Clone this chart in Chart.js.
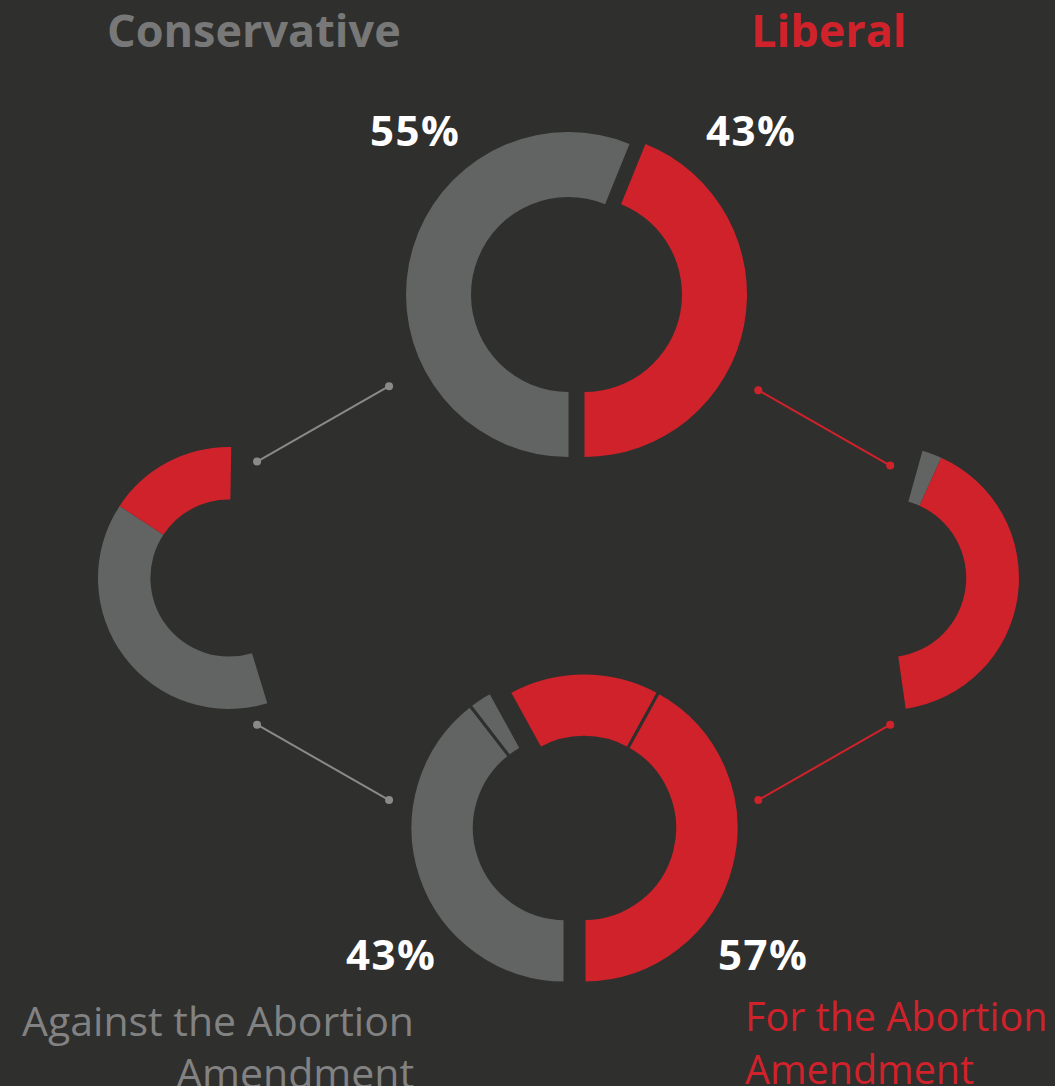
<!DOCTYPE html>
<html>
<head>
<meta charset="utf-8">
<title>Abortion Amendment by political leaning</title>
<script src="https://cdn.jsdelivr.net/npm/chart.js@4.4.1/dist/chart.umd.min.js"></script>
<style>
    html, body { margin: 0; padding: 0; background: #2f2f2e; }
    #page { position: relative; width: 1055px; height: 1086px; overflow: hidden; font-family: 'Open Sans', 'Noto Sans', sans-serif; }
    #page canvas { position: absolute; }
    .label { position: absolute; white-space: nowrap; line-height: 1; }
    .head { font-weight: 700; font-size: 45px; top: 7px; }
    .pct { font-weight: 700; font-size: 42px; color: #ffffff; letter-spacing: 1.5px; }
    .side { font-size: 41px; }
</style>
</head>
<body>
<div id="page">
    <div class="label head" id="lblCons" style="left:107px; color:#787878;"></div>
    <div class="label head" id="lblLib" style="left:751px; color:#d0222a;"></div>
    <div class="label pct" id="pctCons" style="left:370px; top:109px;"></div>
    <div class="label pct" id="pctLib" style="left:706px; top:109px;"></div>
    <div class="label pct" id="pctAgainst" style="left:346px; top:933px;"></div>
    <div class="label pct" id="pctFor" style="left:718px; top:933px;"></div>
    <div class="label side" id="lblAgainst" style="right:641px; top:994px; text-align:right; line-height:52px; color:#828282;"></div>
    <div class="label side" id="lblFor" style="left:745px; top:990px; line-height:53px; font-size:39.5px; color:#d0222a;"></div>
</div>
<script>
// voters by leaning (top ring)
const groupLabels = ['Conservative', 'Liberal'];
const groupShare = [55, 43];

// how each group voted: [against, for]
const conservativeSplit = [39, 16];
const liberalSplit = [2.4, 41];

// outcome (bottom ring)
const outcomeLabels = ['Against the Abortion', 'For the Abortion'];
const outcomeShare = [43, 57];
// conservative against, liberal against, conservative for, liberal for
const outcomeParts = [39.5, 2.5, 16, 42];

const GRAY = '#626463';
const RED = '#d0222a';
const BG = '#2f2f2e';
const NONE = 'rgba(0,0,0,0)';

const page = document.getElementById('page');

function sum(arr) {
    return arr.reduce((a, b) => a + b, 0);
}

// one doughnut chart on its own canvas, centred on (cx, cy)
function addDonut(cx, cy, radius, cutout, values, colors, rotation, borders) {
    const size = Math.ceil(radius * 2 + 10);
    const canvas = document.createElement('canvas');
    canvas.width = size;
    canvas.height = size;
    canvas.style.left = (cx - size / 2) + 'px';
    canvas.style.top = (cy - size / 2) + 'px';
    page.appendChild(canvas);
    return new Chart(canvas, {
        type: 'doughnut',
        data: {
            datasets: [{
                data: values,
                backgroundColor: colors,
                borderColor: BG,
                borderWidth: borders || 0,
            }]
        },
        options: {
            responsive: false,
            animation: false,
            events: [],
            radius: radius,
            cutout: cutout,
            rotation: rotation,
            layout: { padding: 0 },
            plugins: {
                legend: { display: false },
                tooltip: { enabled: false },
            },
        },
    });
}

// connector lines between the rings
const connectors = [
    { color: '#8a8a8a', points: [{ x: 255, y: 461 }, { x: 388, y: 385 }] },
    { color: RED, points: [{ x: 760, y: 389 }, { x: 893, y: 465 }] },
    { color: '#8a8a8a', points: [{ x: 255, y: 726 }, { x: 388, y: 802 }] },
    { color: RED, points: [{ x: 893, y: 726 }, { x: 760, y: 802 }] },
];

const lineCanvas = document.createElement('canvas');
lineCanvas.width = 1055;
lineCanvas.height = 1086;
lineCanvas.style.left = '0px';
lineCanvas.style.top = '0px';
page.appendChild(lineCanvas);
new Chart(lineCanvas, {
    type: 'scatter',
    data: {
        datasets: connectors.map(c => ({
            data: c.points,
            showLine: true,
            borderColor: c.color,
            backgroundColor: c.color,
            borderWidth: 2,
            pointRadius: 4,
            pointBorderWidth: 0,
        }))
    },
    options: {
        responsive: false,
        animation: false,
        events: [],
        layout: { padding: 0 },
        scales: {
            x: { type: 'linear', min: 0, max: 1055, display: false },
            y: { type: 'linear', min: 0, max: 1086, reverse: true, display: false },
        },
        plugins: {
            legend: { display: false },
            tooltip: { enabled: false },
        },
    },
});

// top ring: conservatives pulled left, liberals pulled right
addDonut(568, 294.5, 162.5, '60%', groupShare, [GRAY, NONE], 180);
addDonut(584, 294.5, 162.5, '60%', groupShare, [NONE, RED], 180);

// side arcs: how each group split
addDonut(229, 578, 131, '60%', [...conservativeSplit, 100 - sum(conservativeSplit)], [GRAY, RED, NONE], 163);
addDonut(887, 578, 132, '60%', [...liberalSplit, 100 - sum(liberalSplit)], [GRAY, RED, NONE], 15.6);

// bottom ring: against pulled left, for pulled right
addDonut(565, 827.5, 155, '58.5%', outcomeParts, [GRAY, GRAY, NONE, NONE], 180, [3, 3, 0, 0]);
addDonut(584, 827.5, 155, '58.5%', outcomeParts, [NONE, NONE, RED, RED], 180, [0, 0, 3, 3]);

// texts
document.getElementById('lblCons').textContent = groupLabels[0];
document.getElementById('lblLib').textContent = groupLabels[1];
document.getElementById('pctCons').textContent = groupShare[0] + '%';
document.getElementById('pctLib').textContent = groupShare[1] + '%';
document.getElementById('pctAgainst').textContent = outcomeShare[0] + '%';
document.getElementById('pctFor').textContent = outcomeShare[1] + '%';
document.getElementById('lblAgainst').innerHTML = outcomeLabels[0] + '<br>Amendment';
document.getElementById('lblFor').innerHTML = outcomeLabels[1] + '<br>Amendment';
</script>
</body>
</html>
